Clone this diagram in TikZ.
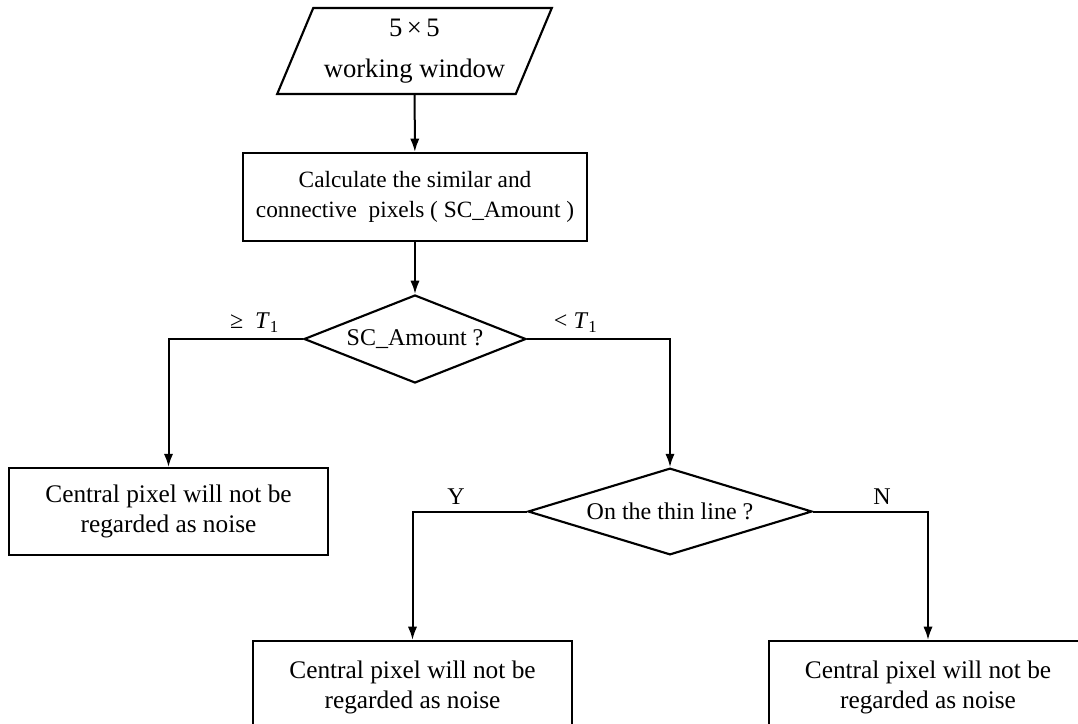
\documentclass[tikz,border=0pt]{standalone}
\usepackage{fontspec}
\setmainfont{Liberation Serif}
\usetikzlibrary{arrows.meta,positioning,shapes.geometric}
\tikzset{
  flow/.style={-{Latex[length=10pt,width=7pt]},line width=1.5pt},
  procbox/.style={draw,line width=1.6pt,align=center,inner sep=2pt,font=\fontsize{19}{22.5}\selectfont},
  iobox/.style={draw,line width=1.6pt,trapezium,trapezium left angle=63.4,trapezium right angle=116.6,trapezium stretches=true,align=center,inner sep=0pt,font=\fontsize{20}{22}\selectfont},
  decbox/.style={draw,line width=1.6pt,diamond,aspect=2.5,inner sep=0pt,font=\fontsize{18}{22.5}\selectfont},
  branch/.style={above=1pt,font=\fontsize{18}{20}\selectfont}
}

\begin{document}
\begin{tikzpicture}[x=0.75pt,y=-0.75pt]
  \useasboundingbox (0,0) rectangle (1078,724);
  \clip (0,0) rectangle (1078,724);
  \node[iobox,minimum width=206pt,minimum height=64.5pt] (win) at (414.5,51) {5\,×\,5\\[9pt]working window};
  \node[procbox,font=\fontsize{17.5}{22.5}\selectfont,minimum width=258pt,minimum height=66pt] (calc) at (415,197) {Calculate the similar and\\connective~ pixels ( SC\_Amount )};
  \node[decbox,minimum width=166.5pt,minimum height=66pt] (amount) at (415,339) {SC\_Amount ?};
  \node[procbox,minimum width=239pt,minimum height=65pt] (keepA) at (168.5,511.5) {Central pixel will not be\\regarded as noise};
  \node[decbox,minimum width=213pt,minimum height=65pt] (thin) at (670,511.5) {On the thin line ?};
  \node[procbox,minimum width=239pt,minimum height=69pt] (keepB) at (412.5,687) {Central pixel will not be\\regarded as noise};
  \node[procbox,minimum width=239pt,minimum height=69pt] (keepC) at (928,687) {Central pixel will not be\\regarded as noise};
  \draw[flow] (win) -- (calc);
  \draw[flow] (calc) -- (amount);
  \draw[flow] (amount.west) -| node[branch,pos=0.18] {≥~ \textit{T}\textsubscript{1}} (keepA.north);
  \draw[flow] (amount.east) -| node[branch,pos=0.17] {< \textit{T}\textsubscript{1}} (thin.north);
  \draw[flow] (thin.west) -| node[branch,pos=0.31] {Y} (keepB.north);
  \draw[flow] (thin.east) -| node[branch,pos=0.3] {N} (keepC.north);
\end{tikzpicture}
\end{document}
